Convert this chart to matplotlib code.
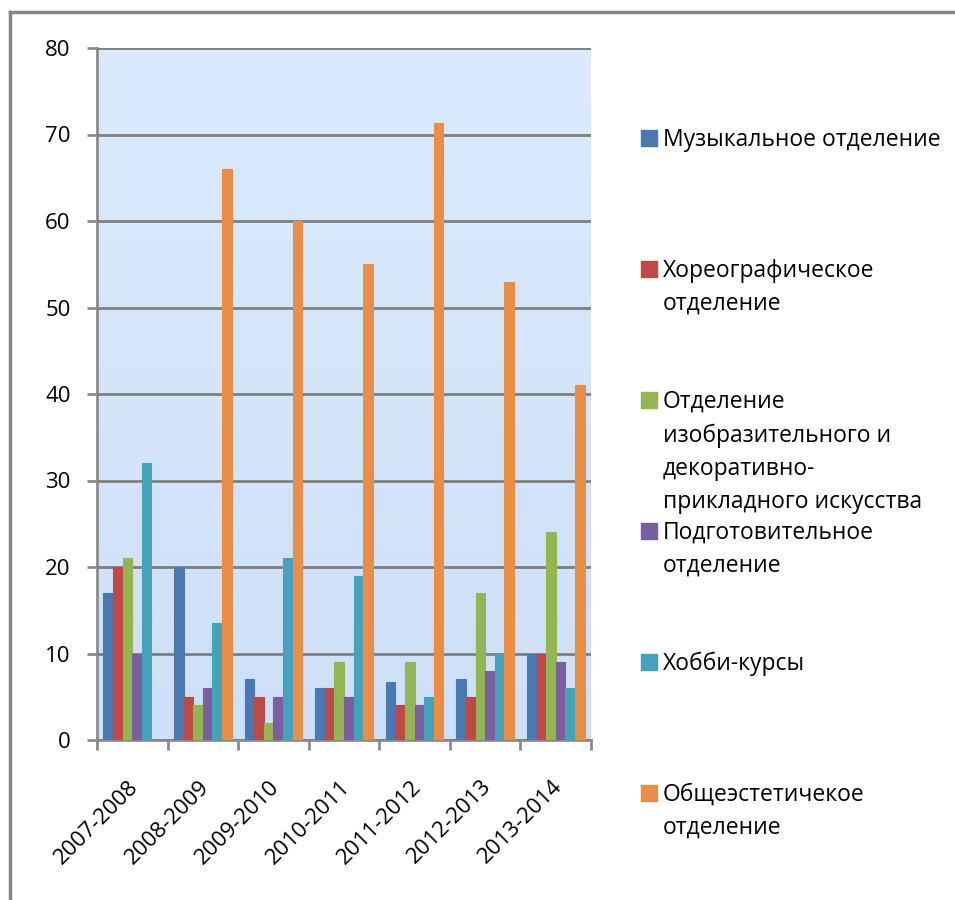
import numpy as np
import matplotlib
matplotlib.use('Agg')
import matplotlib.pyplot as plt
from matplotlib.lines import Line2D
from matplotlib.patches import Rectangle

plt.rcParams['font.family'] = ['Open Sans', 'DejaVu Sans']

years = ['2007-2008', '2008-2009', '2009-2010', '2010-2011',
         '2011-2012', '2012-2013', '2013-2014']

# значения по отделениям
music = [17, 20, 7, 6, 6.7, 7, 10]
choreo = [20, 5, 5, 6, 4, 5, 10]
art = [21, 4, 2, 9, 9, 17, 24]
prep = [10, 6, 5, 5, 4, 8, 9]
hobby = [32, 13.5, 21, 19, 5, 10, 6]
general = [0, 66, 60, 55, 71.3, 53, 41]

series = [music, choreo, art, prep, hobby, general]
names = ['Музыкальное отделение',
         'Хореографическое\nотделение',
         'Отделение\nизобразительного и\nдекоративно-\nприкладного искусства',
         'Подготовительное\nотделение',
         'Хобби-курсы',
         'Общеэстетичекое\nотделение']
colors = ['#4a78b0', '#bb4a48', '#95b453', '#7b5e9d', '#46a2bb', '#e88e48']

fig = plt.figure(figsize=(9.55, 9.0), dpi=100)
ax = fig.add_axes([97 / 955, 160 / 900, 494 / 955, 692 / 900])

# градиент фона области построения
grad = np.linspace(0, 1, 256).reshape(-1, 1)
cmap = matplotlib.colors.LinearSegmentedColormap.from_list('bg', ['#cee0f7', '#dbebfd'])
ax.imshow(grad, cmap=cmap, aspect='auto', extent=[0, 1, 0, 1],
          transform=ax.transAxes, origin='lower', zorder=0)

x = np.arange(len(years)) + 0.5
w = 0.136
for i, (vals, c) in enumerate(zip(series, colors)):
    ax.bar(x + (i - 2.5) * w, vals, width=w, color=c, edgecolor=c,
           linewidth=0.8, zorder=3)

ax.set_xlim(0, 7)
ax.set_ylim(0, 80)
ax.set_yticks(range(0, 81, 10))
ax.yaxis.grid(True, color='#7f7f7f', linewidth=2, zorder=1)
ax.set_axisbelow(False)

ax.set_xticks(range(0, 8))
ax.set_xticklabels([])
ax.set_xticks(x - 0.06, minor=True)
ax.set_xticklabels(years, minor=True, rotation=45, ha='right', va='top',
                   rotation_mode='anchor', fontsize=16)
ax.tick_params(axis='x', which='minor', length=0, pad=26)
ax.tick_params(axis='x', which='major', length=7, width=2, color='#8c8c8c')
ax.tick_params(axis='y', length=7, width=2, color='#8c8c8c', labelsize=16, pad=12)

for s in ['top', 'right']:
    ax.spines[s].set_visible(False)
for s in ['left', 'bottom']:
    ax.spines[s].set_color('#8c8c8c')
    ax.spines[s].set_linewidth(2)

# легенда справа
for i, (name, c) in enumerate(zip(names, colors)):
    y = 1 - (138 + 131 * i) / 900
    fig.patches.append(Rectangle((641 / 955, y - 8 / 900), 16 / 955, 16 / 900,
                                 transform=fig.transFigure, color=c))
    fig.text(663 / 955, y + 10 / 900, name, fontsize=16.5, va='top',
             linespacing=1.5)

# рамка
fig.add_artist(Line2D([10 / 955, 10 / 955], [0, 1 - 12 / 900],
                      color='#878787', linewidth=2.5))
fig.add_artist(Line2D([10 / 955, 1], [1 - 12 / 900, 1 - 12 / 900],
                      color='#878787', linewidth=2.5))

fig.savefig('out.png', dpi=100)
